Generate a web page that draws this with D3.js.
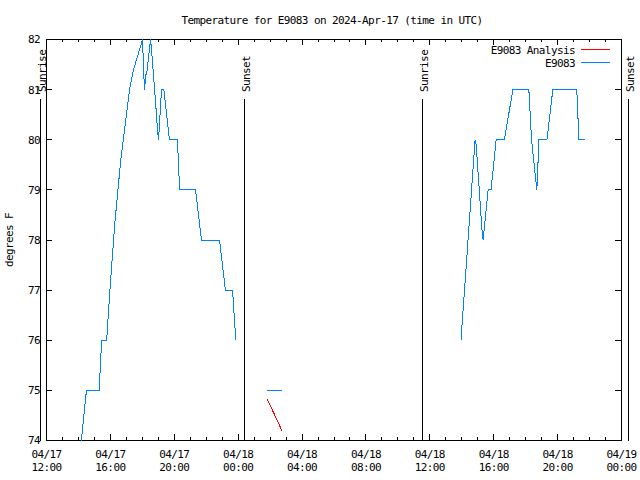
<!DOCTYPE html>
<html>
<head>
<meta charset="utf-8">
<script src="https://cdn.jsdelivr.net/npm/d3@7"></script>
<style>
  html, body { margin: 0; padding: 0; background: #fff; }
  svg { display: block; }
  text { font-family: "DejaVu Sans Mono", monospace; font-size: 11px; letter-spacing: -0.6px; fill: #000; }
</style>
</head>
<body>
<svg id="chart" width="640" height="480"></svg>
<script>
// ---- data ----
const titleText = "Temperature for E9083 on 2024-Apr-17 (time in UTC)";
const yLabel = "degrees F";
const seriesNames = ["E9083 Analysis", "E9083"];
const seriesColors = ["#ff0000", "#0080ff"];

// observed series (null = gap)
const obsTimes = [
  "2024-04-17T14:11","2024-04-17T14:30","2024-04-17T15:18","2024-04-17T15:27","2024-04-17T15:46",
  "2024-04-17T15:57","2024-04-17T16:16","2024-04-17T16:39","2024-04-17T17:12","2024-04-17T17:27",
  "2024-04-17T18:01","2024-04-17T18:05","2024-04-17T18:09","2024-04-17T18:12","2024-04-17T18:16",
  "2024-04-17T18:31","2024-04-17T18:39","2024-04-17T18:49","2024-04-17T18:57","2024-04-17T19:01",
  "2024-04-17T19:12","2024-04-17T19:21","2024-04-17T19:42","2024-04-17T20:12","2024-04-17T20:20",
  "2024-04-17T21:20","2024-04-17T21:42","2024-04-17T22:50","2024-04-17T23:12","2024-04-17T23:39",
  "2024-04-17T23:51",
  "2024-04-18T00:30",
  "2024-04-18T01:48","2024-04-18T02:45",
  "2024-04-18T08:00",
  "2024-04-18T13:57","2024-04-18T14:50","2024-04-18T14:54","2024-04-18T15:16","2024-04-18T15:20",
  "2024-04-18T15:39","2024-04-18T15:50","2024-04-18T16:09","2024-04-18T16:40","2024-04-18T17:12",
  "2024-04-18T18:12","2024-04-18T18:22","2024-04-18T18:42","2024-04-18T18:50","2024-04-18T19:20",
  "2024-04-18T19:42","2024-04-18T21:12","2024-04-18T21:20","2024-04-18T21:44"
];
const obsValues = [
  74,75,75,76,76,
  76.9,78.3,79.6,81,81.4,
  82,81.3,81,81.3,81.3,
  82,81.5,80.8,80.2,80,
  81,81,80,80,79,
  79,78,78,77,77,
  76,
  null,
  75,75,
  null,
  76,80,79.9,78.2,78,
  79,79,80,80,81,
  81,80,79,80,80,
  81,81,80,80
];

// analysis series
const anaTimes = ["2024-04-18T01:50","2024-04-18T02:45"];
const anaValues = [74.82, 74.19];

// sunrise / sunset
const sunLabels = ["Sunrise","Sunset","Sunrise","Sunset"];
const sunTimes = ["2024-04-17T11:37","2024-04-18T00:24","2024-04-18T11:33","2024-04-19T00:25"];

// axes
const xDomain = ["2024-04-17T12:00","2024-04-19T00:00"];
const xMajorTicks = ["2024-04-17T12:00","2024-04-17T16:00","2024-04-17T20:00","2024-04-18T00:00",
  "2024-04-18T04:00","2024-04-18T08:00","2024-04-18T12:00","2024-04-18T16:00","2024-04-18T20:00","2024-04-19T00:00"];
const yTicks = [74,75,76,77,78,79,80,81,82];

// ---- drawing ----
const parse = s => new Date(s + ":00Z");
const svg = d3.select("#chart");
const L = 46, R = 621, T = 39, B = 440;

const x = d3.scaleUtc().domain(xDomain.map(parse)).range([L, R]);
const y = d3.scaleLinear().domain([74, 82]).range([B, T]);

// clip
svg.append("defs").append("clipPath").attr("id","clip")
  .append("rect").attr("x", L).attr("y", T).attr("width", R - L + 1).attr("height", B - T + 1);

const fmtD = d3.utcFormat("%m/%d"), fmtT = d3.utcFormat("%H:%M");
const minorTicks = d3.utcHour.every(1).range(parse(xDomain[0]), d3.utcHour.offset(parse(xDomain[1]), 1));

function clean(g) {
  g.attr("font-family", null).attr("font-size", null);
  g.select(".domain").remove();
  g.selectAll("line").attr("stroke", "#000").attr("shape-rendering", "crispEdges");
}

// minor ticks bottom/top
svg.append("g").attr("transform", `translate(0,${B})`)
  .call(d3.axisBottom(x).tickValues(minorTicks).tickSize(-3).tickFormat(""))
  .call(clean);
svg.append("g").attr("transform", `translate(0,${T})`)
  .call(d3.axisTop(x).tickValues(minorTicks).tickSize(-3).tickFormat(""))
  .call(clean);
// major ticks bottom with labels
const gx = svg.append("g").attr("transform", `translate(0,${B})`)
  .call(d3.axisBottom(x).tickValues(xMajorTicks.map(parse)).tickSize(-6).tickFormat(fmtD))
  .call(clean);
gx.selectAll(".tick text").each(function(d) {
  const t = d3.select(this);
  t.text(null).attr("y", null).attr("dy", null).attr("fill", "#000");
  t.append("tspan").attr("x", 0).attr("y", 18).text(fmtD(d));
  t.append("tspan").attr("x", 0).attr("y", 31).text(fmtT(d));
});
svg.append("g").attr("transform", `translate(0,${T})`)
  .call(d3.axisTop(x).tickValues(xMajorTicks.map(parse)).tickSize(-6).tickFormat(""))
  .call(clean);

// y axes
const gy = svg.append("g").attr("transform", `translate(${L},0)`)
  .call(d3.axisLeft(y).tickValues(yTicks).tickSize(-6).tickPadding(6).tickFormat(d3.format("d")))
  .call(clean);
gy.selectAll(".tick text").attr("fill", "#000").attr("dy", "0.36em");
svg.append("g").attr("transform", `translate(${R},0)`)
  .call(d3.axisRight(y).tickValues(yTicks).tickSize(-6).tickFormat(""))
  .call(clean);

// frame
svg.append("rect").attr("x", L + 0.5).attr("y", T + 0.5).attr("width", R - L).attr("height", B - T)
  .attr("fill", "none").attr("stroke", "#000").attr("shape-rendering", "crispEdges");

// sun lines
sunTimes.forEach((s, i) => {
  const xs = Math.round(x(parse(s))) + 0.5;
  svg.append("line").attr("x1", xs).attr("x2", xs).attr("y1", 99).attr("y2", B + 0.5)
    .attr("stroke", "#000").attr("shape-rendering", "crispEdges");
  svg.append("text").attr("transform", `translate(${xs + 5},92) rotate(-90)`)
    .attr("text-anchor", "start").text(sunLabels[i]);
});

// series lines
const line = d3.line()
  .defined(d => d[1] != null)
  .x(d => x(d[0]) + 0.5)
  .y(d => y(d[1]) + 0.5);

const plot = svg.append("g").attr("clip-path", "url(#clip)");
plot.append("path")
  .datum(obsTimes.map((t, i) => [parse(t), obsValues[i]]))
  .attr("d", line).attr("fill", "none").attr("stroke", seriesColors[1]).attr("stroke-width", 1)
  .attr("shape-rendering", "crispEdges");
plot.append("path")
  .datum(anaTimes.map((t, i) => [parse(t), anaValues[i]]))
  .attr("d", line).attr("fill", "none").attr("stroke", seriesColors[0]).attr("stroke-width", 1)
  .attr("shape-rendering", "crispEdges");

// legend
seriesNames.forEach((n, i) => {
  const ly = 49.5 + i * 13;
  svg.append("text").attr("x", 575).attr("y", ly + 4.5).attr("text-anchor", "end").text(n);
  svg.append("line").attr("x1", 581).attr("x2", 610).attr("y1", ly).attr("y2", ly)
    .attr("stroke", seriesColors[i]).attr("shape-rendering", "crispEdges");
});

// title and y label
svg.append("text").attr("x", 332).attr("y", 24).attr("text-anchor", "middle").text(titleText);
svg.append("text").attr("transform", "translate(13,240) rotate(-90)").attr("text-anchor", "middle").text(yLabel);
</script>
</body>
</html>
